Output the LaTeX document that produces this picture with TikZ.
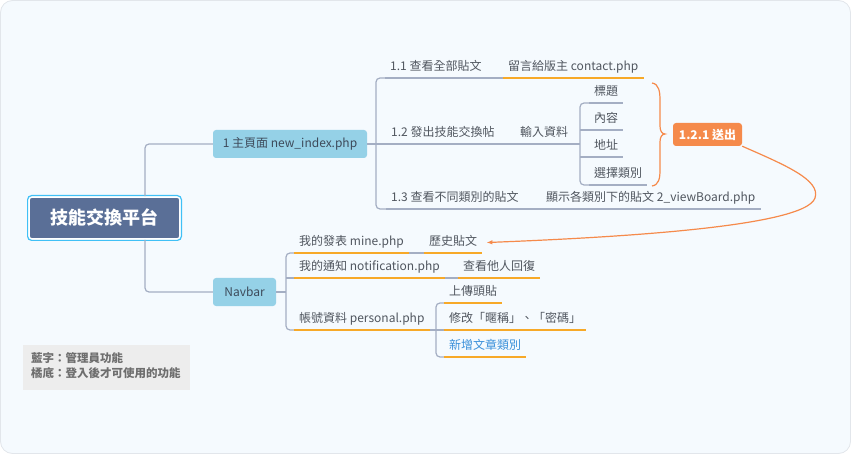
\documentclass[tikz,border=0pt]{standalone}
\usepackage{fontspec}
\setmainfont{Noto Sans CJK TC}
\usetikzlibrary{arrows.meta,fit}
\definecolor{bg}{HTML}{F5FAFE}
\definecolor{bgline}{HTML}{E2E6EB}
\definecolor{rootfill}{HTML}{5A6F97}
\definecolor{rootring}{HTML}{40C0F6}
\definecolor{mainfill}{HTML}{95D1E7}
\definecolor{txt}{HTML}{50565F}
\definecolor{maintxt}{HTML}{3D4A5A}
\definecolor{conn}{HTML}{A4AEC3}
\definecolor{uorange}{HTML}{F7A928}
\definecolor{sendc}{HTML}{F58A4B}
\definecolor{bluetxt}{HTML}{3A90DA}
\definecolor{legfill}{HTML}{EDEDED}
\definecolor{legtxt}{HTML}{6E6E6E}
\begin{document}
\begin{tikzpicture}[x=1pt,y=-1pt,
  topic/.style={anchor=south west, inner xsep=5pt, inner ysep=4.5pt,
    text height=9pt, text depth=2.5pt, font=\fontsize{12}{14}\selectfont, text=txt},
  mainbox/.style={fill=mainfill, rounded corners=3pt, text=maintxt,
    font=\fontsize{12}{14}\selectfont, minimum height=28pt, inner xsep=0pt},
  cline/.style={draw=conn, line width=1.2pt, rounded corners=4pt},
  gline/.style={draw=conn, line width=1.3pt},
  oline/.style={draw=uorange, line width=1.6pt},
  sendline/.style={draw=sendc, line width=1.2pt}]
\useasboundingbox (0,0) rectangle (851,454);
\draw[fill=bg, draw=bgline, line width=0.8pt, rounded corners=12pt] (0.5,0.5) rectangle (850.5,453.5);

% root
\node[fill=rootfill, draw=white, line width=1.6pt, rounded corners=3pt,
  minimum width=151pt, minimum height=42pt, text=white,
  font=\fontsize{18}{20}\bfseries] (root) at (104.5,218) {技能交換平台};
\node[fit=(root), inner sep=0.6pt, draw=rootring, line width=1.2pt, rounded corners=4pt] (rootring) {};

% main branches
\node[mainbox, minimum width=154pt] (m1) at (290,144) {1 主頁面 new\_index.php};
\node[mainbox, minimum width=63pt] (nav) at (244.5,292) {Navbar};
\coordinate (rj) at (145,0);
\draw[cline] (root.north -| rj) |- (m1.west);
\draw[cline] (root.south -| rj) |- (nav.west);

% branch 1 topics
\node[topic] (t11) at (385,78) {1.1 查看全部貼文};
\node[topic] (c11) at (503,78) {留言給版主 contact.php};
\node[topic] (t12) at (386,144) {1.2 發出技能交換帖};
\node[topic] (c12) at (515,144) {輸入資料};
\node[topic] (d1) at (589,103) {標題};
\node[topic] (d2) at (589,130) {內容};
\node[topic] (d3) at (589,157) {地址};
\node[topic] (d4) at (589,185) {選擇類別};
\node[topic] (t13) at (386,209) {1.3 查看不同類別的貼文};
\node[topic] (c13) at (541,209) {顯示各類別下的貼文 2\_viewBoard.php};

\coordinate (v1) at (376,0);
\draw[cline] (t11.south west) -- (t11.south west -| v1) -- (t13.south west -| v1) -- (t13.south west);
\draw[gline] (m1.east) -- (t12.south west);
\draw[gline] (t11.south east) -- (c11.south west);
\draw[gline] (t12.south east) -- (c12.south west);
\draw[gline] (t13.south east) -- (c13.south west);
\coordinate (v2) at (580,0);
\draw[cline] (d1.south west) -- (d1.south west -| v2) -- (d4.south west -| v2) -- (d4.south west);
\draw[gline] (d2.south west -| v2) -- (d2.south west);
\draw[gline] (d3.south west -| v2) -- (d3.south west);
\draw[gline] (c12.south east) -- (c12.south east -| v2);
\foreach \n in {t11,t12,c12,d1,d2,d3,d4,t13,c13}
  \draw[gline] (\n.south west) -- (\n.south east);
\draw[oline] (c11.south west) -- (c11.south east);

% send node and brace
\node[fill=sendc, rounded corners=3pt, minimum width=69pt, minimum height=23pt,
  inner xsep=0pt, text=white, font=\fontsize{12}{14}\bfseries] (send) at (707.5,134.5) {1.2.1 送出};
\coordinate (bt) at (652,83);
\coordinate (bb) at (652,186);
\coordinate (btip) at (665,134);
\draw[sendline] (bt) .. controls (659,84) and (660,92) .. (660,100) -- (660,126)
  .. controls (660,131) and (662,134) .. (btip)
  .. controls (662,134) and (660,137) .. (660,142) -- (660,170)
  .. controls (660,178) and (659,185) .. (bb);

% navbar topics
\node[topic] (n1) at (294,253) {我的發表 mine.php};
\node[topic] (n1c) at (424,253) {歷史貼文};
\node[topic] (n2) at (294,278) {我的通知 notification.php};
\node[topic] (n2c) at (458,278) {查看他人回復};
\node[topic] (n3) at (294,330) {帳號資料 personal.php};
\node[topic] (p1) at (444,303) {上傳頭貼};
\node[topic] (p2) at (444,330) {修改「暱稱」、「密碼」};
\node[topic, text=bluetxt] (p3) at (444,357) {新增文章類別};

\coordinate (v3) at (286,0);
\draw[gline] (nav.east) -- (nav.east -| v3);
\draw[cline] (n1.south west) -- (n1.south west -| v3) -- (n3.south west -| v3) -- (n3.south west);
\draw[gline] (n2.south west -| v3) -- (n2.south west);
\draw[gline] (n1.south east) -- (n1c.south west);
\draw[gline] (n2.south east) -- (n2c.south west);
\coordinate (v4) at (436,0);
\draw[cline] (p1.south west) -- (p1.south west -| v4) -- (p3.south west -| v4) -- (p3.south west);
\draw[gline] (n3.south east) -- (p2.south west);
\foreach \n in {n1,n1c,n2,n2c,n3,p1,p2,p3}
  \draw[oline] (\n.south west) -- (\n.south east);

% arrow from send to history
\draw[sendline, -{Latex[length=6pt,width=4.5pt]}] (send.south east)
  .. controls (785,165) and (821,180) .. (815,198)
  .. controls (805,228) and (600,238) .. ([xshift=4pt]n1c.east);

% legend
\node[fill=legfill, minimum width=167pt, minimum height=45pt, inner sep=0pt] (leg) at (106.5,367.5) {};
\node[anchor=west, align=left, text=legtxt, inner sep=0pt,
  font=\fontsize{11.5}{15}\bfseries] (legt) at (31,366) {藍字：管理員功能\\橘底：登入後才可使用的功能};
\end{tikzpicture}
\end{document}
